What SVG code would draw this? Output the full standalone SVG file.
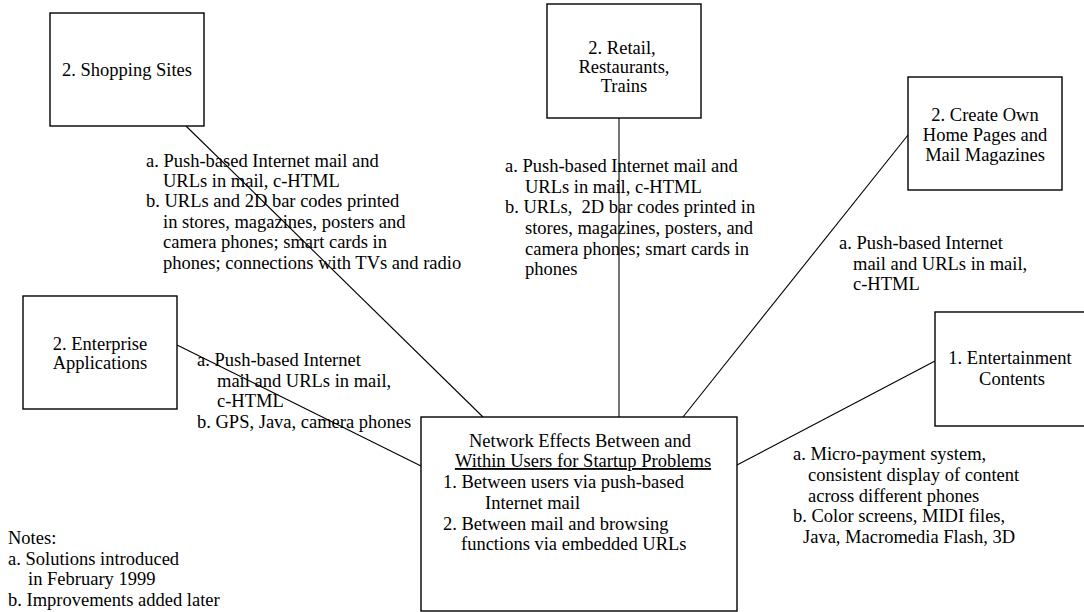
<svg xmlns="http://www.w3.org/2000/svg" width="1084" height="612" viewBox="0 0 1084 612">
<style>
text{font-family:"Liberation Serif","Times New Roman",serif;font-size:18.5px;fill:#000}
.c{text-anchor:middle}
.box{fill:#fff;stroke:#000;stroke-width:1.4}
.ln{stroke:#000;stroke-width:1.1;fill:none}
</style>
<rect width="1084" height="612" fill="#fff"/>
<g id="connectors">
<line class="ln" x1="186" y1="126" x2="483" y2="417"/>
<line class="ln" x1="619" y1="118" x2="619" y2="417"/>
<line class="ln" x1="908" y1="135" x2="683" y2="417"/>
<line class="ln" x1="177" y1="345" x2="421" y2="466"/>
<line class="ln" x1="935" y1="361" x2="737" y2="465"/>
</g>
<g id="shopping">
<rect class="box" x="50" y="13" width="154" height="113"/>
<text class="c" x="127" y="76">2. Shopping Sites</text>
</g>
<g id="retail">
<rect class="box" x="547" y="4" width="154" height="114"/>
<text class="c" x="622" y="54">2. Retail,</text>
<text class="c" x="624" y="73">Restaurants,</text>
<text class="c" x="624" y="92">Trains</text>
</g>
<g id="create">
<rect class="box" x="908" y="77" width="154" height="113"/>
<text class="c" x="985" y="121">2. Create Own</text>
<text class="c" x="985" y="141">Home Pages and</text>
<text class="c" x="985" y="161">Mail Magazines</text>
</g>
<g id="enterprise">
<rect class="box" x="23" y="296" width="154" height="113"/>
<text class="c" x="100" y="350">2. Enterprise</text>
<text class="c" x="100" y="369">Applications</text>
</g>
<g id="entertainment">
<rect class="box" x="935" y="312" width="154" height="114"/>
<text class="c" x="1010" y="364">1. Entertainment</text>
<text class="c" x="1012" y="385">Contents</text>
</g>
<g id="center">
<rect class="box" x="421" y="417" width="316" height="194"/>
<text class="c" x="580" y="447">Network Effects Between and</text>
<text class="c" x="583" y="467" text-decoration="underline">Within Users for Startup Problems</text>
<text x="443" y="488">1. Between users via push-based</text>
<text x="485" y="509">Internet mail</text>
<text x="443" y="530">2. Between mail and browsing</text>
<text x="461" y="550">functions via embedded URLs</text>
</g>
<g id="label-shopping">
<text x="146" y="167">a. Push-based Internet mail and</text>
<text x="163" y="187">URLs in mail, c-HTML</text>
<text x="146" y="207">b. URLs and 2D bar codes printed</text>
<text x="163" y="228">in stores, magazines, posters and</text>
<text x="163" y="248">camera phones; smart cards in</text>
<text x="163" y="269">phones; connections with TVs and radio</text>
</g>
<g id="label-retail">
<text x="505" y="172">a. Push-based Internet mail and</text>
<text x="525" y="193">URLs in mail, c-HTML</text>
<text x="505" y="213" style="white-space:pre">b. URLs,  2D bar codes printed in</text>
<text x="525" y="234">stores, magazines, posters, and</text>
<text x="525" y="255">camera phones; smart cards in</text>
<text x="525" y="275">phones</text>
</g>
<g id="label-create">
<text x="839" y="249">a. Push-based Internet</text>
<text x="853" y="270">mail and URLs in mail,</text>
<text x="853" y="290">c-HTML</text>
</g>
<g id="label-enterprise">
<text x="197" y="366">a. Push-based Internet</text>
<text x="217" y="387">mail and URLs in mail,</text>
<text x="217" y="407">c-HTML</text>
<text x="197" y="428">b. GPS, Java, camera phones</text>
</g>
<g id="label-entertainment">
<text x="793" y="460">a. Micro-payment system,</text>
<text x="808" y="481">consistent display of content</text>
<text x="808" y="502">across different phones</text>
<text x="793" y="522">b. Color screens, MIDI files,</text>
<text x="803" y="543">Java, Macromedia Flash, 3D</text>
</g>
<g id="notes">
<text x="8" y="544">Notes:</text>
<text x="8" y="565">a. Solutions introduced</text>
<text x="28" y="585">in February 1999</text>
<text x="8" y="606">b. Improvements added later</text>
</g>
</svg>
